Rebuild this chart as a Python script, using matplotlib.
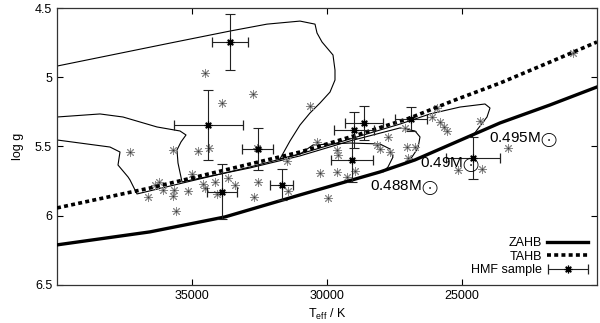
import matplotlib
matplotlib.use('Agg')
import matplotlib.pyplot as plt
from matplotlib.legend_handler import HandlerErrorbar
from matplotlib.container import ErrorbarContainer
import numpy as np

plt.rcParams['font.family'] = ['Liberation Sans', 'DejaVu Sans']
plt.rcParams['mathtext.fontset'] = 'custom'
plt.rcParams['mathtext.rm'] = 'Liberation Sans'
plt.rcParams['mathtext.it'] = 'Liberation Sans:italic'

# zero age / terminal age horizontal branch
zahb_teff = [40000, 36556, 33778, 31000, 28037, 26741, 23593, 21741, 20000]
zahb_logg = [6.211, 6.117, 6.009, 5.850, 5.684, 5.597, 5.330, 5.200, 5.070]
tahb_teff = [40000, 36556, 33778, 31000, 28778, 26926, 25259, 23593, 21741, 20000]
tahb_logg = [5.944, 5.800, 5.670, 5.540, 5.410, 5.294, 5.164, 5.042, 4.890, 4.745]

# evolutionary tracks
trk495_teff = [24630, 24444, 24074, 23963, 24148, 25074, 26185, 27296, 29148, 31000, 31741,
               31370, 31000, 30630, 30259, 29889, 29704, 29704, 29778, 30185, 30370, 30444,
               31000, 32222, 33593, 35815, 40000]
trk495_logg = [5.431, 5.381, 5.287, 5.222, 5.193, 5.215, 5.265, 5.338, 5.446, 5.554, 5.590,
               5.460, 5.345, 5.258, 5.186, 5.107, 5.020, 4.948, 4.839, 4.745, 4.680, 4.616,
               4.594, 4.616, 4.666, 4.753, 4.919]
trk490_teff = [27111, 26852, 26630, 26556, 26741, 27296, 29148, 31000, 32852, 35370,
               35519, 35556, 35407, 35222, 35444, 36296, 37556, 38407, 40000]
trk490_logg = [5.619, 5.576, 5.511, 5.431, 5.388, 5.366, 5.460, 5.568, 5.655, 5.756,
               5.619, 5.525, 5.467, 5.417, 5.388, 5.359, 5.287, 5.265, 5.287]
trk488_teff = [27926, 27741, 27556, 27667, 28037, 29148, 30519, 31000, 32852, 34704, 37037,
               37296, 37370, 37741, 37667, 38037, 40000]
trk488_logg = [5.684, 5.648, 5.576, 5.518, 5.482, 5.475, 5.489, 5.555, 5.648, 5.734, 5.843,
               5.742, 5.720, 5.634, 5.540, 5.504, 5.453]

track_labels = [r'0.495M$_{\bigodot}$', r'0.49M$_{\bigodot}$', r'0.488M$_{\bigodot}$']
label_teff = [24000, 26556, 28407]
label_logg = [5.455, 5.635, 5.800]

# HMF sample stars with error bars
eb_teff = [33593, 34407, 32556, 33889, 31667, 29000, 28630, 29074, 26889, 24593]
eb_logg = [4.745, 5.345, 5.518, 5.828, 5.778, 5.381, 5.330, 5.597, 5.301, 5.583]
eb_dteff = [667, 1278, 574, 556, 426, 741, 704, 778, 593, 1000]
eb_dlogg = [0.199, 0.253, 0.155, 0.199, 0.112, 0.130, 0.123, 0.159, 0.087, 0.152]

# HMF sample stars without error bars
star_teff = [34519, 33889, 32741, 37296, 35704, 34778, 34370, 32593, 36630, 36370,
             36222, 36074, 35667, 35704, 35593, 35148, 35000, 34593, 34519, 34148,
             34074, 33667, 33407, 32704, 32556, 31444, 30630, 30370, 29630, 29593,
             30259, 29630, 29963, 29259, 28963, 28148, 28037, 27741, 27667, 27111,
             27037, 26741, 27000, 26111, 25926, 25815, 25667, 25556, 24333, 23296,
             25148, 24259, 20889, 31481]
star_logg = [4.969, 5.186, 5.121, 5.540, 5.525, 5.533, 5.511, 5.511, 5.865, 5.778,
             5.756, 5.814, 5.814, 5.857, 5.966, 5.821, 5.699, 5.771, 5.800, 5.756,
             5.843, 5.727, 5.778, 5.865, 5.756, 5.821, 5.208, 5.468, 5.525, 5.561,
             5.691, 5.684, 5.872, 5.720, 5.677, 5.489, 5.518, 5.431, 5.540, 5.366,
             5.504, 5.504, 5.583, 5.287, 5.222, 5.323, 5.359, 5.388, 5.316, 5.511,
             5.670, 5.662, 4.825, 5.605]

fig, ax = plt.subplots(figsize=(6.0, 3.23), dpi=100)
fig.subplots_adjust(left=0.095, right=0.995, top=0.975, bottom=0.118)

for t, g in [(trk495_teff, trk495_logg), (trk490_teff, trk490_logg), (trk488_teff, trk488_logg)]:
    ax.plot(t, g, color='k', lw=0.8, zorder=2)

star = (8, 2, 0)
ax.plot(star_teff, star_logg, ls='none', marker=star, ms=6.5, mec='#8a8a8a', mew=0.7, zorder=3)
ax.plot(star_teff, star_logg, ls='none', marker='o', ms=1.3, color='#333', mew=0, zorder=3)

zahb, = ax.plot(zahb_teff, zahb_logg, color='k', lw=2.4, label='ZAHB', zorder=4)
tahb, = ax.plot(tahb_teff, tahb_logg, color='k', lw=2.6, ls=(0, (1.1, 0.9)), label='TAHB', zorder=4)

ax.errorbar(eb_teff, eb_logg, yerr=eb_dlogg, fmt='none', ecolor='#222', elinewidth=0.8,
            capsize=3.5, capthick=0.8, zorder=5)
hmf = ax.errorbar(eb_teff, eb_logg, xerr=eb_dteff, ls='none', marker=star, ms=5.5, color='k',
                  mew=0.9, ecolor='#222', elinewidth=0.8, capsize=3.5, capthick=0.8,
                  label='HMF sample', zorder=5)

for lab, t, g in zip(track_labels, label_teff, label_logg):
    ax.text(t, g, lab, fontsize=11, ha='left', va='center', zorder=6)

ax.set_xlim(40000, 20000)
ax.set_ylim(6.5, 4.5)
ax.set_xticks([35000, 30000, 25000])
ax.set_yticks([4.5, 5, 5.5, 6, 6.5])
ax.set_yticklabels(['4.5', '5', '5.5', '6', '6.5'])
ax.tick_params(direction='in', top=True, right=True, length=4, width=0.8, labelsize=9)
for s in ax.spines.values():
    s.set_linewidth(0.9)
    s.set_color('#333')

ax.set_xlabel(r'T$_{\rm eff}$ / K', fontsize=9, labelpad=4)
ax.set_ylabel('log g', fontsize=9, labelpad=8)

ax.legend(handles=[zahb, tahb, hmf], loc='lower right', frameon=False, markerfirst=False,
          fontsize=9, handlelength=3.3, labelspacing=0.12, borderaxespad=0.3, handletextpad=0.4,
          handler_map={ErrorbarContainer: HandlerErrorbar(xerr_size=1.6)})

fig.savefig('out.png', dpi=100)
